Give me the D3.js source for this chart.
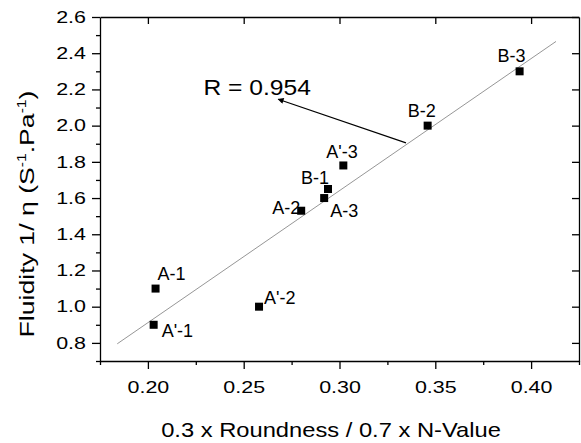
<!DOCTYPE html>
<html>
<head>
<meta charset="utf-8">
<script src="https://cdn.jsdelivr.net/npm/d3@7"></script>
<style>
  body { margin: 0; background: #fff; }
  svg { display: block; font-family: "Liberation Sans", Arial, sans-serif; }
  .axis path, .axis line { stroke: #000; stroke-width: 1.3; }
</style>
</head>
<body>
<svg id="chart" width="581" height="443"></svg>
<script>
// sample names and measured values
var names = ["A-1", "A'-1", "A'-2", "A-2", "A-3", "B-1", "A'-3", "B-2", "B-3"];
var roundness = [0.204, 0.203, 0.258, 0.280, 0.292, 0.294, 0.302, 0.346, 0.394];
var fluidity = [1.10, 0.90, 1.00, 1.53, 1.60, 1.65, 1.78, 2.00, 2.30];

// linear fit end points
var fitX = [0.184, 0.413];
var fitY = [0.795, 2.465];

var xTicks = [0.20, 0.25, 0.30, 0.35, 0.40];
var xMinor = [0.175, 0.225, 0.275, 0.325, 0.375, 0.425];
var yTicks = [0.8, 1.0, 1.2, 1.4, 1.6, 1.8, 2.0, 2.2, 2.4, 2.6];
var yMinor = [0.7, 0.9, 1.1, 1.3, 1.5, 1.7, 1.9, 2.1, 2.3, 2.5];

var rLabel = "R = 0.954";

drawChart();

function drawChart () {
  var svg = d3.select('#chart');
  var mLeft = 100, mRight = 579, mTop = 17, mBottom = 361;
  var tickStretch = 1.3;

  var x = d3.scaleLinear().domain([0.175, 0.425]).range([mLeft, mRight]);
  var y = d3.scaleLinear().domain([0.7, 2.6]).range([mBottom, mTop]);

  //minor ticks first
  svg.append('g').attr('class', 'axis')
    .attr('transform', 'translate(0,' + mBottom + ')')
    .call(d3.axisBottom(x).tickValues(xMinor).tickSize(4).tickFormat(''))
    .select('.domain').remove();
  svg.append('g').attr('class', 'axis')
    .attr('transform', 'translate(' + mLeft + ',0)')
    .call(d3.axisLeft(y).tickValues(yMinor).tickSize(4).tickFormat(''))
    .select('.domain').remove();

  // main axes
  var gx = svg.append('g').attr('class', 'axis')
    .attr('transform', 'translate(0,' + mBottom + ')')
    .call(d3.axisBottom(x).tickValues(xTicks).tickSize(8).tickSizeOuter(0).tickPadding(12).tickFormat(d3.format('.2f')))
    .attr('font-size', 16.5).attr('font-family', null);
  gx.selectAll('.tick text').attr('transform', 'scale(' + tickStretch + ',1)');

  var gy = svg.append('g').attr('class', 'axis')
    .attr('transform', 'translate(' + mLeft + ',0)')
    .call(d3.axisLeft(y).tickValues(yTicks).tickSize(8).tickSizeOuter(0).tickFormat(d3.format('.1f')))
    .attr('font-size', 16.5).attr('font-family', null);
  gy.selectAll('.tick text')
    .attr('x', -14 / tickStretch)
    .attr('transform', 'scale(' + tickStretch + ',1)');

  svg.append('g').attr('class', 'axis')
    .attr('transform', 'translate(0,' + mTop + ')')
    .call(d3.axisTop(x).tickValues(xTicks).tickSize(-7).tickSizeOuter(0).tickFormat(''));
  svg.append('g').attr('class', 'axis')
    .attr('transform', 'translate(' + mRight + ',0)')
    .call(d3.axisRight(y).tickValues(yTicks).tickSize(-7).tickSizeOuter(0).tickFormat(''));

  // fit line
  svg.append('line')
    .attr('x1', x(fitX[0])).attr('y1', y(fitY[0]))
    .attr('x2', x(fitX[1])).attr('y2', y(fitY[1]))
    .attr('stroke', '#8a8a8a').attr('stroke-width', 0.9);

  // points
  svg.selectAll('rect.pt').data(names).enter().append('rect')
    .attr('class', 'pt')
    .attr('x', function (d, i) { return x(roundness[i]) - 4; })
    .attr('y', function (d, i) { return y(fluidity[i]) - 4; })
    .attr('width', 8).attr('height', 8)
    .attr('fill', '#000');

  // label offsets in px [dx, dy, anchor]
  var labelPos = {
    "A-1": [2, -9, 'start'],
    "A'-1": [8, 12, 'start'],
    "A'-2": [5, -3, 'start'],
    "A-2": [-1, 3, 'end'],
    "A-3": [6, 19, 'start'],
    "B-1": [1, -5, 'end'],
    "A'-3": [-17, -7, 'start'],
    "B-2": [-20, -9, 'start'],
    "B-3": [-22, -9, 'start']
  };

  svg.selectAll('text.lbl').data(names).enter().append('text')
    .attr('class', 'lbl')
    .attr('x', function (d, i) { return x(roundness[i]) + labelPos[d][0]; })
    .attr('y', function (d, i) { return y(fluidity[i]) + labelPos[d][1]; })
    .attr('text-anchor', function (d) { return labelPos[d][2]; })
    .attr('font-size', 18)
    .text(function (d) { return d; });

  // arrow to R value
  svg.append('defs').append('marker')
    .attr('id', 'head').attr('viewBox', '0 0 10 10')
    .attr('refX', 9).attr('refY', 5)
    .attr('markerWidth', 10).attr('markerHeight', 6)
    .attr('markerUnits', 'userSpaceOnUse')
    .attr('orient', 'auto')
    .append('path').attr('d', 'M0,0L10,5L0,10z').attr('fill', '#000');

  svg.append('line')
    .attr('x1', x(0.3347)).attr('y1', y(1.905))
    .attr('x2', x(0.268)).attr('y2', y(2.146))
    .attr('stroke', '#000').attr('stroke-width', 1.2)
    .attr('marker-end', 'url(#head)');

  svg.append('text')
    .attr('transform', 'translate(' + x(0.229) + ',' + y(2.17) + ') scale(1.12,1)')
    .attr('font-size', 22)
    .text(rLabel);

  // axis titles
  svg.append('text')
    .attr('transform', 'translate(331,437) scale(1.13,1)')
    .attr('text-anchor', 'middle')
    .attr('font-size', 21)
    .text('0.3 x Roundness / 0.7 x N-Value');

  var yt = svg.append('text')
    .attr('transform', 'translate(34,214) rotate(-90) scale(1.3,1)')
    .attr('text-anchor', 'middle')
    .attr('font-size', 20.5);
  yt.append('tspan').text('Fluidity 1/ η (S');
  yt.append('tspan').attr('font-size', 12).attr('dy', -8).text('-1');
  yt.append('tspan').attr('dy', 8).text('.Pa');
  yt.append('tspan').attr('font-size', 12).attr('dy', -8).text('-1');
  yt.append('tspan').attr('dy', 8).text(')');
}
</script>
</body>
</html>
